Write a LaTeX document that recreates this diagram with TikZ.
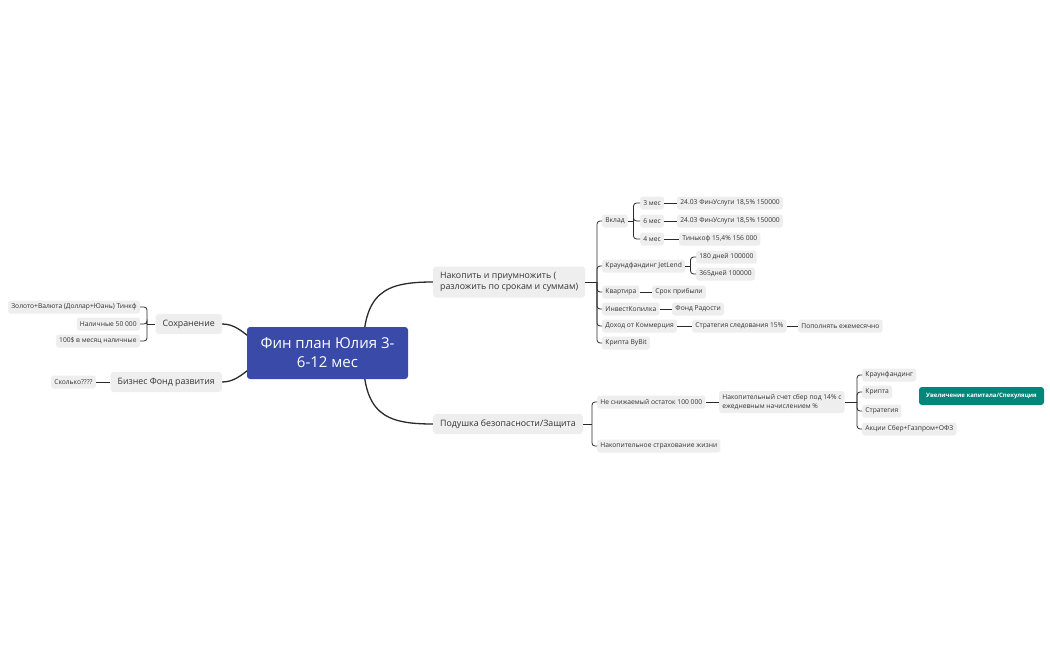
\documentclass[tikz,border=0pt]{standalone}
\usepackage{fontspec}
\setmainfont{Open Sans}
\usetikzlibrary{backgrounds}
\definecolor{ngray}{HTML}{EEEEEE}
\definecolor{txt}{HTML}{333333}
\definecolor{lc}{HTML}{2A2A2A}
\definecolor{cblue}{HTML}{3A4AA8}
\definecolor{teal2}{HTML}{00877A}
\begin{document}
\begin{tikzpicture}[x=1pt,y=-1pt,
  leaf/.style={fill=ngray, rounded corners=2.5pt, text=txt, font=\fontsize{6.7}{8}\selectfont, inner xsep=3.2pt, inner ysep=0pt, minimum height=13pt, anchor=west},
  leafL/.style={leaf, anchor=east},
  big/.style={fill=ngray, rounded corners=3pt, text=txt, font=\fontsize{8.8}{11}\selectfont, inner xsep=7pt, inner ysep=0pt, minimum height=20pt, anchor=west},
  bigL/.style={big, anchor=east},
  conn/.style={draw=lc, line width=0.8pt, rounded corners=3pt},
  mainc/.style={draw=lc, line width=1.3pt},
]
\useasboundingbox (0,0) rectangle (1050,650);

% central
\node[fill=cblue, rounded corners=3pt, text=white, font=\fontsize{15}{19}\selectfont, align=center, minimum width=161pt, minimum height=52pt, inner sep=0pt] (root) at (327.5,353) {Фин план Юлия 3-\\6-12 мес};

% main branches
\node[big, align=left, minimum height=31pt] (nak) at (433,282) {Накопить и приумножить (\\разложить по срокам и суммам)};
\node[big] (pod) at (433,424) {Подушка безопасности/Защита};
\node[bigL] (sohr) at (222,324) {Сохранение};
\node[bigL] (biz) at (222,382) {Бизнес Фонд развития};

% left leaves
\node[leafL] (zol) at (140,307) {Золото+Валюта (Доллар+Юань) Тинкф};
\node[leafL] (nal) at (140,324) {Наличные 50 000};
\node[leafL] (usd) at (140,341) {100\$ в месяц наличные};
\node[leafL] (skol) at (96,382) {Сколько????};

% upper right
\node[leaf] (vklad) at (602,221) {Вклад};
\node[leaf] (jet) at (602,266) {Краундфандинг JetLend};
\node[leaf] (kv) at (602,292) {Квартира};
\node[leaf] (inv) at (602,309) {ИнвестКопилка};
\node[leaf] (doh) at (602,326) {Доход от Коммерция};
\node[leaf] (kr) at (602,343) {Крипта ByBit};

\node[leaf] (m3) at (640,203) {3 мес};
\node[leaf] (m6) at (640,221) {6 мес};
\node[leaf] (m4) at (640,239) {4 мес};
\node[leaf] (f3) at (677,203) {24.03 ФинУслуги 18,5\% 150000};
\node[leaf] (f6) at (677,221) {24.03 ФинУслуги 18,5\% 150000};
\node[leaf] (t4) at (679,239) {Тинькоф 15,4\% 156 000};

\node[leaf] (d180) at (696,257) {180 дней 100000};
\node[leaf] (d365) at (696,274) {365дней 100000};

\node[leaf] (srok) at (652,292) {Срок прибыли};
\node[leaf] (fond) at (672,309) {Фонд Радости};
\node[leaf] (strat15) at (692,326) {Стратегия следования 15\%};
\node[leaf] (pop) at (798,326) {Пополнять ежемесячно};

% lower right
\node[leaf] (ost) at (597,402) {Не снижаемый остаток 100 000};
\node[leaf] (strah) at (597,446) {Накопительное страхование жизни};
\node[leaf, align=left, minimum height=22pt, font=\fontsize{6.7}{8.5}\selectfont] (schet) at (719,402) {Накопительный счет сбер под 14\% с\\ежедневным начислением \%};
\node[leaf] (kf) at (862,375) {Краунфандинг};
\node[leaf] (krip) at (862,392) {Крипта};
\node[leaf] (str) at (862,411) {Стратегия};
\node[leaf] (akc) at (862,429) {Акции Сбер+Газпром+ОФЗ};

\node[fill=teal2, rounded corners=3pt, text=white, font=\bfseries\fontsize{6}{7}\selectfont, minimum width=125pt, minimum height=18pt, inner sep=0pt] (uvel) at (981.5,396) {Увеличение капитала/Спекуляция};

% connectors
\begin{scope}[on background layer]
  \draw[mainc] (363,353) .. controls (363,292) and (385,282) .. (nak.west);
  \draw[mainc] (363,353) .. controls (363,414) and (385,424) .. (pod.west);
  \draw[mainc] (300,353) .. controls (250,353) and (247,324) .. (sohr.east);
  \draw[mainc] (300,353) .. controls (250,353) and (247,382) .. (biz.east);
\end{scope}

% left brackets
\coordinate (bS) at (147,324);
\draw[conn] (sohr.west) -- (bS);
\foreach \c in {zol,nal,usd} \draw[conn] (bS) |- (\c.east);
\draw[conn] (biz.west) -- (skol.east);

% upper bracket
\coordinate (bN) at (597,282);
\draw[conn] (nak.east) -- (bN);
\foreach \c in {vklad,jet,kv,inv,doh,kr} \draw[conn] (bN) |- (\c.west);

\coordinate (bV) at (633.5,221);
\draw[conn] (vklad.east) -- (bV);
\foreach \c in {m3,m6,m4} \draw[conn] (bV) |- (\c.west);
\draw[conn] (m3.east) -- (f3.west);
\draw[conn] (m6.east) -- (f6.west);
\draw[conn] (m4.east) -- (t4.west);

\coordinate (bJ) at (690.5,266);
\draw[conn] (jet.east) -- (bJ);
\foreach \c in {d180,d365} \draw[conn] (bJ) |- (\c.west);

\draw[conn] (kv.east) -- (srok.west);
\draw[conn] (inv.east) -- (fond.west);
\draw[conn] (doh.east) -- (strat15.west);
\draw[conn] (strat15.east) -- (pop.west);

% lower bracket
\coordinate (bP) at (592,424);
\draw[conn] (pod.east) -- (bP);
\foreach \c in {ost,strah} \draw[conn] (bP) |- (\c.west);
\draw[conn] (ost.east) -- (schet.west);

\coordinate (bK) at (857,402);
\draw[conn] (schet.east) -- (bK);
\foreach \c in {kf,krip,str,akc} \draw[conn] (bK) |- (\c.west);

\end{tikzpicture}
\end{document}
